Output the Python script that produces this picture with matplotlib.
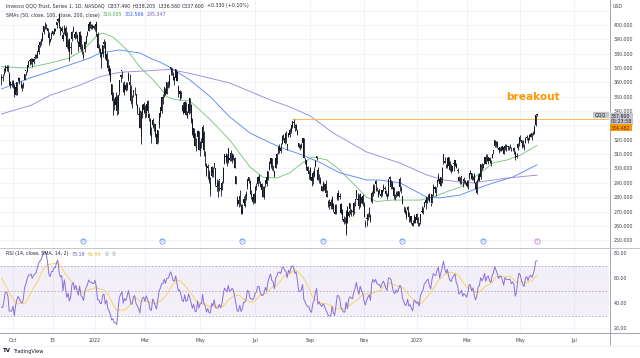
import numpy as np
import pandas as pd
import matplotlib
matplotlib.use("Agg")
import matplotlib.pyplot as plt
from matplotlib.patches import Rectangle
from matplotlib.lines import Line2D
import matplotlib.transforms as mtransforms

# ---------------- data (daily bars, 2021-09-20 .. 2023-05-18) ----------------
pre_closes = [366,366,368,369,370,366,362,364,368,373,374,375,372,376,380,380,381,380,382,383,
              381,379,376,376,375,378,378,371]

closes = [
 364,364,367,371,371,369,358,358,358,
 360,352,357,360,362,360,358,357,359,366,368,372,375,375,376,374,376,377,378,382,386,
 388,390,394,399,400,399,396,391,390,394,394,397,397,402,404,399,397,398,390,398,392,
 385,388,381,384,395,397,391,395,390,386,395,385,383,379,388,392,395,401,399,399,398,398,
 401,396,384,384,380,380,386,387,377,380,370,366,361,351,352,344,344,340,351,362,
 365,368,353,358,355,359,366,358,347,347,355,356,345,341,337,328,339,344,345,
 339,345,340,335,323,322,334,330,323,317,327,339,343,350,350,357,352,360,360,365,371,367,362,
 362,369,361,353,354,349,341,339,346,337,338,345,340,333,324,328,316,315,326,313,
 318,318,329,313,309,296,300,291,290,301,297,304,289,288,288,292,286,290,300,310,308,
 305,314,306,307,310,308,300,289,275,275,281,269,272,279,279,283,293,291,282,282,280,
 282,287,288,294,294,288,285,285,287,292,289,298,303,307,302,301,295,307,310,315,
 315,314,322,323,321,320,316,325,323,330,333,332,328,330,324,315,315,316,321,307,304,300,298,
 298,293,291,297,299,305,309,292,294,290,288,290,288,283,280,275,274,274,280,272,268,
 274,283,283,280,269,266,263,263,270,262,270,272,271,270,276,279,285,279,274,282,278,
 275,266,261,265,268,270,264,283,288,285,289,285,284,284,281,285,288,286,282,280,293,
 293,292,287,281,280,283,281,284,287,285,276,273,269,269,273,266,267,263,260,267,266,
 264,265,261,268,270,272,277,278,280,281,277,275,282,288,287,287,292,295,289,294,
 300,310,305,302,307,302,299,298,302,304,306,300,298,291,292,294,289,291,290,
 288,291,297,297,293,295,290,286,288,295,296,303,301,303,308,303,307,308,305,304,310,313,320,
 318,316,313,315,315,313,310,316,315,315,315,315,313,314,313,307,309,317,322,
 321,318,316,315,321,322,320,323,324,323,325,329,337.27,337.6,
]
opens = [
 362,363,366,368,370,370,366,360,359,
 359,358,351,354,363,363,358,358,358,362,368,367,372,375,373,376,374,378,379,377,381,
 386,388,390,395,401,400,398,394,389,392,396,394,396,400,403,407,397,396,393,396,398,
 394,383,390,384,390,396,394,394,393,388,385,393,385,378,383,388,393,396,402,400,399,399,
 399,402,394,384,383,376,380,388,388,375,375,370,369,359,347,347,350,350,341,353,
 364,368,358,353,358,356,362,360,357,347,353,356,352,344,338,340,322,339,341,
 343,339,347,338,334,323,330,329,331,324,321,330,337,340,349,351,354,352,360,358,369,369,366,
 364,363,367,357,352,353,344,343,339,346,335,339,349,344,334,321,325,314,322,326,
 312,318,318,325,309,303,302,297,285,295,299,303,300,287,290,292,286,285,291,304,309,
 310,305,307,311,306,309,307,295,280,278,279,274,269,276,274,280,287,294,291,281,277,
 278,277,287,289,291,290,289,280,280,290,294,293,299,303,307,301,298,300,304,312,
 313,312,318,322,318,325,317,322,327,326,329,332,329,327,327,318,315,315,318,321,304,306,301,
 296,300,294,291,295,302,307,299,294,292,284,285,287,289,282,277,274,277,273,275,270,
 269,279,280,281,275,271,265,263,255,273,267,276,270,270,269,278,280,278,281,274,280,
 281,275,262,265,265,268,267,277,283,286,291,286,280,286,282,282,285,286,284,282,282,
 294,287,290,287,281,282,282,281,293,286,281,273,272,266,271,270,264,267,262,262,263,
 268,264,262,263,270,269,273,276,277,280,282,275,276,282,286,283,290,291,293,288,
 294,305,304,302,301,308,305,302,298,303,302,303,299,294,292,295,289,293,291,
 290,287,294,298,297,294,296,290,283,292,292,294,302,300,304,308,305,305,307,305,307,312,316,
 318,318,314,312,312,316,315,314,315,315,316,314,312,314,314,311,308,314,317,
 321,320,318,316,318,321,321,321,322,325,324,325,330,337.49,
]
highs = [
 366,366,370,372,372,372,367,361,362,
 362,359,358,360,364,363,361,359,360,366,368,372,375,376,377,377,377,380,380,382,386,
 389,390,395,399,402,401,398,395,391,395,396,398,398,402,405,408,399,399,395,400,399,
 395,390,391,388,396,399,395,396,394,389,396,393,387,382,389,392,396,401,403,401,401,400,
 401,402,395,387,384,381,386,390,389,381,376,372,370,359,353,349,353,351,351,362,
 366,368,360,361,360,360,367,366,358,351,355,357,352,345,343,341,340,345,346,
 344,345,348,339,335,329,335,332,331,326,327,339,343,350,352,357,356,360,361,365,371,370,367,
 364,369,368,358,355,354,344,346,347,346,340,346,349,345,335,328,325,321,327,326,
 319,321,330,326,312,304,303,299,294,302,301,304,300,293,292,292,287,291,301,310,311,
 310,314,309,313,311,310,308,295,281,280,285,275,275,281,282,284,293,294,292,285,282,
 283,288,290,295,296,291,290,288,288,292,294,298,305,307,307,302,298,307,311,316,
 317,318,323,324,323,326,317,325,328,330,333,334.48,331,331,327,318,317,318,321,321,307,306,302,
 299,301,294,298,301,306,309,301,296,294,288,291,290,292,285,278,279,279,281,276,275,
 275,283,285,283,276,272,267,266,271,274,271,276,272,276,277,279,285,283,282,283,280,
 282,277,264,267,269,273,268,284,289,289,292,287,285,286,283,285,289,288,285,283,293,
 295,292,291,287,282,284,284,284,294,288,281,274,273,271,274,270,267,267,264,268,266,
 269,266,262,268,274,273,277,279,280,282,283,276,282,289,288,287,292,297,293,294,
 301,310,308,303,308,308,305,303,302,304,306,304,300,295,294,295,291,294,292,
 292,292,297,299,297,295,297,291,293,296,297,303,304,303,308,310,310,308,308,306,310,313,320,
 319,319,315,315,316,316,316,317,317,316,316,317,315,314,315,312,311,318,322,
 323,320,320,317,322,323,321,324,325,325,326,330,337.6,338.205,
]
lows = [
 358,361,365,367,368,367,358,356,357,
 356,350,351,351,361,359,356,354,356,362,365,367,371,372,373,371,373,376,377,377,380,
 385,386,389,394,397,397,394,386,388,390,393,394,396,398,402,398,393,395,389,394,390,
 384,382,375,380,389,395,390,391,388,382,383,382,380,376,381,387,392,396,398,397,397,397,
 396,392,384,381,378,370,378,384,376,374,368,365,360,350,337,341,341,337,338,351,
 360,363,353,351,354,355,361,356,345,342,350,351,344,338,333,328,317,335,339,
 335,336,339,333,323,318,328,326,322,317,318,328,336,339,345,350,351,352,356,357,365,365,362,
 358,362,361,350,348,349,340,338,338,337,335,338,339,332,323,319,316,312,318,313,
 309,314,316,309,302,295,293,290,281,294,294,300,288,284,280,284,281,285,290,303,304,
 302,304,305,305,304,306,300,289,274,273,274,268,268,275,273,278,286,290,282,279,275,
 276,276,285,288,290,287,283,280,279,287,288,292,299,300,299,298,294,300,303,310,
 311,311,317,320,317,318,313,322,322,325,328,329,326,327,323,314,313,314,316,307,303,299,297,
 293,292,288,289,294,301,306,292,290,289,284,284,285,283,280,273,272,272,272,270,268,
 268,278,278,279,268,264,261,262,254,262,266,268,267,267,268,274,279,276,272,273,276,
 274,266,259,260,264,266,263,276,281,283,284,284,280,282,280,281,284,285,281,279,281,
 289,286,286,279,278,280,281,280,284,283,275,270,268,265,270,263,263,261,260,262,262,
 262,260,260,261,269,268,273,272,276,278,277,274,276,281,284,281,287,291,289,288,
 290,303,304,300,300,302,298,297,298,298,302,300,297,291,289,289,287,290,289,
 287,286,293,296,292,292,290,284,282,291,291,293,299,300,303,303,305,303,304,302,307,310,315,
 315,314,311,312,312,313,310,313,312,313,313,314,312,312,310,306,307,313,316,
 319,314,315,313,318,320,318,320,322,320,323,324,329.5,336.56,
]

# moving averages (bar index -> value)
sma50_idx = [0,20,38,53,64,75,79,87,98,108,118,124,129,135,147,163,178,194,204,215,225,235,243,254,264,274,285,293,305,316,327,337,348,358,374,384,395,405,418]
sma50_val = [371,370,373.5,377,382.6,393,394.4,391.6,382.6,370.7,362,356,350,348,347,334,320,301,294,293.4,297,304,308,306,299,290,280,277,278,278,278,280,284,287,297,304,306,309.4,316.065]
sma100_idx = [0,22,46,69,77,92,108,117,124,131,147,163,178,194,210,220,233,249,264,285,295,311,332,342,358,368,384,399,418]
sma100_val = [355.4,363,370,377,380.5,382.6,380.5,376.5,374,370.7,361.7,350,336,324.7,317.8,314,310,304,297,292,292,290,280,279.5,281.5,285,290,294,302.566]
sma200_idx = [0,23,38,61,77,92,116,131,147,178,210,225,241,259,285,311,332,345,358,368,395,418]
sma200_val = [338,344,351,358,364,367,368.2,369,366.3,359.6,347.7,343,336.6,324.7,311.5,303.8,295.5,292,290.6,290,293.4,295.347]

resistance = 334.482
resistance_start = 227          # 2022-08-16 high
dividend_idx = [64, 125, 188, 251, 313, 376]
event_idx = 418

tick_idx = [9, 40, 73, 112, 155, 198, 241, 283, 324, 363, 405, 447]
tick_lab = ["Oct", "15", "2022", "Mar", "May", "Jul", "Sep", "Nov", "2023", "Mar", "May", "Jul"]
price_ticks = list(range(250, 410, 10))
rsi_ticks = [20, 40, 60, 80]

# ---------------- figure ----------------
W, H = 640, 358
fig = plt.figure(figsize=(6.4, 3.58), dpi=100)
fig.patch.set_facecolor("white")

def rect(x0, y0, x1, y1):
    return [x0 / W, 1 - y1 / H, (x1 - x0) / W, (y1 - y0) / H]

def fx(x):
    return x / W

def fy(y):
    return 1 - y / H

FS = 3.4
TXT = "#3b3e48"
GRID = "#eef1f8"
XL = (-1.17, 474.2)

ax = fig.add_axes(rect(0, 0, 609, 247))
ar = fig.add_axes(rect(0, 248, 609, 332))
for a in (ax, ar):
    a.set_xlim(*XL)
    for s in a.spines.values():
        s.set_visible(False)
    a.tick_params(length=0)
    for t in tick_idx:
        a.axvline(t, color=GRID, lw=0.6, zorder=0)

ax.set_ylim(245.3, 417.4)
ar.set_ylim(16.8, 84.0)

# price gridlines / ticks (330 label sits under the price boxes)
for p in price_ticks + [410]:
    ax.axhline(p, color=GRID, lw=0.6, zorder=0)
ax.yaxis.tick_right()
ax.set_yticks(price_ticks)
ax.set_yticklabels(["" if p == 330 else f"{p:.3f}" for p in price_ticks], fontsize=FS, color=TXT)
ax.tick_params(axis="y", pad=3.2)
ax.set_xticks([])

# candles
n = len(closes)
idx = np.arange(n)
o = np.array(opens, float)
c = np.array(closes, float)
hi = np.maximum(np.array(highs, float), np.maximum(o, c))
lo = np.minimum(np.array(lows, float), np.minimum(o, c))
ax.vlines(idx, lo, hi, color="#131722", lw=0.6, zorder=3)
ax.bar(idx, np.maximum(np.abs(c - o), 0.4), bottom=np.minimum(o, c), width=0.8,
       color="#131722", lw=0, zorder=3)

# SMAs
ax.plot(sma50_idx, sma50_val, color="#7cc47f", lw=0.65, zorder=2)
ax.plot(sma100_idx, sma100_val, color="#5c8cf0", lw=0.65, zorder=2)
ax.plot(sma200_idx, sma200_val, color="#a08ae2", lw=0.65, zorder=2)

# breakout level
ax.hlines(resistance, resistance_start, XL[1], color="#ffb74d", lw=0.7, zorder=2)
fig.text(fx(533), fy(97), "breakout", color="#ff9800", fontsize=7.6, fontweight="bold",
         ha="center", va="center")

# dividend markers
bt = mtransforms.blended_transform_factory(ax.transData, ax.transAxes)
ymk = (247 - 241) / 247
ax.scatter(dividend_idx, [ymk] * len(dividend_idx), s=14, facecolor="white",
           edgecolor="#6f95f0", lw=0.6, transform=bt, zorder=5, clip_on=False)
for d in dividend_idx:
    ax.text(d, ymk, "D", transform=bt, fontsize=2.8, color="#4f7de8", ha="center",
            va="center", zorder=6)
ax.scatter([event_idx], [ymk], s=14, facecolor="white", edgecolor="#c27fd6", lw=0.6,
           transform=bt, zorder=5, clip_on=False)
ax.text(event_idx, ymk, "ϟ", transform=bt, fontsize=3.0, color="#b565cc", ha="center",
        va="center", zorder=6)

# ---------------- RSI ----------------
allc = np.array(pre_closes + closes, float)
dlt = np.diff(allc)
g = np.clip(dlt, 0, None)
l = np.clip(-dlt, 0, None)
ag = np.full(len(dlt), np.nan)
al = np.full(len(dlt), np.nan)
ag[13] = g[:14].mean()
al[13] = l[:14].mean()
for k in range(14, len(dlt)):
    ag[k] = (ag[k - 1] * 13 + g[k]) / 14
    al[k] = (al[k - 1] * 13 + l[k]) / 14
rsi_all = np.concatenate([[np.nan], 100 - 100 / (1 + ag / al)])
rsi_sma_all = pd.Series(rsi_all).rolling(14).mean().to_numpy()
rsi = rsi_all[-n:]
rsi_sma = rsi_sma_all[-n:]

ar.axhspan(30, 70, color="#7e57c2", alpha=0.09, lw=0, zorder=0)
for r in rsi_ticks:
    ar.axhline(r, color=GRID, lw=0.6, zorder=0)
for r in (70, 50, 30):
    ar.axhline(r, color="#a3a3b5", lw=0.55, dashes=(2.2, 2.2), zorder=1)
ar.plot(idx, rsi_sma, color="#f3d35a", lw=0.65, zorder=2)
ar.plot(idx, rsi, color="#8b6fd6", lw=0.7, zorder=3)
ar.yaxis.tick_right()
ar.set_yticks(rsi_ticks)
ar.set_yticklabels([f"{r:.2f}" for r in rsi_ticks], fontsize=FS, color=TXT)
ar.tick_params(axis="y", pad=3.2)
ar.set_xticks(tick_idx)
ar.set_xticklabels(tick_lab, fontsize=FS, color=TXT)
ar.tick_params(axis="x", pad=4.5)

# ---------------- frame lines ----------------
LC = "#9598a1"
fig.add_artist(Line2D([fx(609.5), fx(609.5)], [fy(0), fy(345)], color=LC, lw=0.6))
fig.add_artist(Line2D([0, 1], [fy(247.5), fy(247.5)], color="#b8bbc4", lw=0.6))
fig.add_artist(Line2D([0, 1], [fy(332.5), fy(332.5)], color=LC, lw=0.6))
fig.add_artist(Line2D([0, 1], [fy(345.5), fy(345.5)], color="#eceef3", lw=0.5))

# ---------------- header texts ----------------
renderer = fig.canvas.get_renderer()

def seq(x, y, parts, size=FS):
    for s, col, gap in parts:
        t = fig.text(fx(x), fy(y), s, color=col, fontsize=size, ha="left", va="center")
        bb = t.get_window_extent(renderer=renderer)
        x += bb.width + gap

seq(6, 6, [("Invesco QQQ Trust, Series 1, 1D, NASDAQ", "#2a2e39", 3),
           ("O337.490", "#2a2e39", 2), ("H338.205", "#2a2e39", 2),
           ("L336.560", "#2a2e39", 2), ("C337.600", "#2a2e39", 2),
           ("+0.330 (+0.10%)", "#2a2e39", 0)])
seq(6, 15, [("SMAs (50, close, 100, close, 200, close)", "#2a2e39", 3),
            ("316.065", "#4caf50", 2.5), ("302.566", "#2962ff", 2.5),
            ("295.347", "#7e57c2", 0)])
seq(6, 254, [("RSI (14, close, SMA, 14, 2)", "#2a2e39", 3),
             ("73.19", "#7e57c2", 2.5), ("61.69", "#e8c33a", 4),
             ("◎", "#9598a1", 2.5), ("◎", "#9598a1", 0)])

fig.text(fx(613), fy(7), "USD", fontsize=FS, color=TXT, ha="left", va="center")

# price labels on the right axis
def box(x0, y0, x1, y1, col):
    fig.add_artist(Rectangle((fx(x0), fy(y1)), fx(x1) - fx(x0), fy(y0) - fy(y1),
                             transform=fig.transFigure, facecolor=col, edgecolor="none",
                             zorder=5))

box(609.5, 113.3, 633, 124.5, "#c4c6cc")
fig.text(fx(611), fy(116.2), "337.600", fontsize=FS, color="#1e222d", ha="left", va="center", zorder=6)
fig.text(fx(611), fy(121.6), "05:23:58", fontsize=FS, color="#1e222d", ha="left", va="center", zorder=6)
box(593, 112, 608.5, 118, "#c4c6cc")
fig.text(fx(600.7), fy(115), "QQQ", fontsize=FS, color="#1e222d", ha="center", va="center", zorder=6)
box(609.5, 124.5, 632, 131.5, "#ff9800")
fig.text(fx(611), fy(128), "334.482", fontsize=FS, color="#5d3500", ha="left", va="center", zorder=6)

# logo
fig.text(fx(3), fy(351), "TV", fontsize=4.0, fontweight="bold", color="#131722", ha="left", va="center")
fig.text(fx(13), fy(351), "TradingView", fontsize=3.6, color="#131722", ha="left", va="center")

fig.savefig("out.png", dpi=100, facecolor="white")
